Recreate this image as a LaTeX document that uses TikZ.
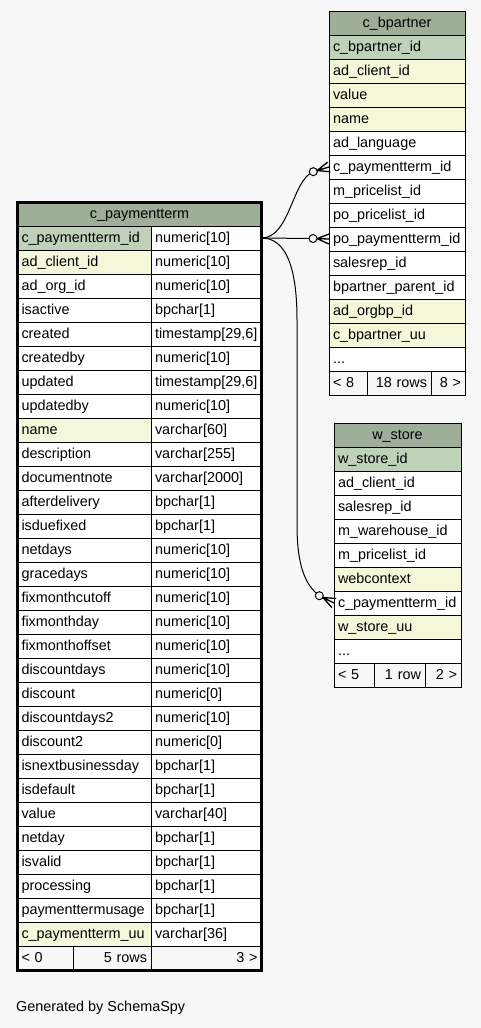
\documentclass[tikz,border=0pt]{standalone}
\usepackage{fontspec}
\setmainfont{Liberation Sans}
\usetikzlibrary{calc}
\definecolor{bgc}{HTML}{F7F7F7}
\definecolor{hdc}{HTML}{9EAE99}
\definecolor{pkc}{HTML}{BFD1B9}
\definecolor{ixc}{HTML}{F4F7DA}
\definecolor{whc}{HTML}{FFFFFF}
\newcommand\tabfont{\fontsize{14.4}{16}\selectfont}
\newcommand\tsz{timestamp[29,6]}
\newcommand\ellip{...}
\begin{document}
\begin{tikzpicture}[x=1pt,y=-1pt,
  cell/.style={draw=black, line width=1pt, outer sep=0pt, minimum height=24pt,
    inner xsep=4pt, inner ysep=0pt, align=left, text height=11pt, text depth=3pt,
    anchor=north west, font=\tabfont},
  rcell/.style={cell, align=right},
  hcell/.style={cell, align=center, fill=hdc},
  fcell/.style={cell, fill=bgc},
  frcell/.style={rcell, fill=bgc},
  link/.style={draw=black, line width=1pt},
  crow/.style={draw=black, line width=1.3pt},
  ring/.style={draw=black, line width=1pt, fill=bgc}]
\useasboundingbox (0,0) rectangle (481,1028);
\fill[bgc] (0,0) rectangle (481,1028);

% ---------- c_paymentterm ----------
\node[hcell, text width=236pt, minimum height=23.5pt] (pth) at (17.5,202.5) {c\_paymentterm};
\foreach \a/\b/\c [count=\i] in {
  c\_paymentterm\_id/numeric[10]/pkc,
  ad\_client\_id/numeric[10]/ixc,
  ad\_org\_id/numeric[10]/whc,
  isactive/bpchar[1]/whc,
  created/\tsz/whc,
  createdby/numeric[10]/whc,
  updated/\tsz/whc,
  updatedby/numeric[10]/whc,
  name/varchar[60]/ixc,
  description/varchar[255]/whc,
  documentnote/varchar[2000]/whc,
  afterdelivery/bpchar[1]/whc,
  isduefixed/bpchar[1]/whc,
  netdays/numeric[10]/whc,
  gracedays/numeric[10]/whc,
  fixmonthcutoff/numeric[10]/whc,
  fixmonthday/numeric[10]/whc,
  fixmonthoffset/numeric[10]/whc,
  discountdays/numeric[10]/whc,
  discount/numeric[0]/whc,
  discountdays2/numeric[10]/whc,
  discount2/numeric[0]/whc,
  isnextbusinessday/bpchar[1]/whc,
  isdefault/bpchar[1]/whc,
  value/varchar[40]/whc,
  netday/bpchar[1]/whc,
  isvalid/bpchar[1]/whc,
  processing/bpchar[1]/whc,
  paymenttermusage/bpchar[1]/whc,
  c\_paymentterm\_uu/varchar[36]/ixc}
{
  \node[cell, fill=\c, text width=125.5pt] (pl\i) at (17.5,{226+24*(\i-1)}) {\a};
  \node[cell, fill=whc, text width=102.5pt] (pr\i) at (151,{226+24*(\i-1)}) {\b};
}
\node[fcell, text width=47.5pt] (ptf1) at (17.5,946) {< 0};
\node[frcell, text width=70pt] (ptf2) at (73,946) {5 rows};
\node[frcell, text width=102.5pt] (ptf3) at (151,946) {3 >};
\draw[line width=3pt] (17.5,202.5) rectangle (261.5,970);

% ---------- c_bpartner ----------
\node[hcell, text width=128pt] (bph) at (329,11) {c\_bpartner};
\foreach \a/\c [count=\i] in {
  c\_bpartner\_id/pkc,
  ad\_client\_id/ixc,
  value/ixc,
  name/ixc,
  ad\_language/whc,
  c\_paymentterm\_id/whc,
  m\_pricelist\_id/whc,
  po\_pricelist\_id/whc,
  po\_paymentterm\_id/whc,
  salesrep\_id/whc,
  bpartner\_parent\_id/whc,
  ad\_orgbp\_id/ixc,
  c\_bpartner\_uu/ixc,
  \ellip/whc}
{
  \node[cell, fill=\c, text width=128pt] (bp\i) at (329,{35+24*(\i-1)}) {\a};
}
\node[fcell, text width=30pt] (bpf1) at (329,371) {< 8};
\node[frcell, text width=56pt] (bpf2) at (367,371) {18 rows};
\node[frcell, text width=26pt] (bpf3) at (431,371) {8 >};

% ---------- w_store ----------
\node[hcell, text width=119pt] (wsh) at (334,423) {w\_store};
\foreach \a/\c [count=\i] in {
  w\_store\_id/pkc,
  ad\_client\_id/whc,
  salesrep\_id/whc,
  m\_warehouse\_id/whc,
  m\_pricelist\_id/whc,
  webcontext/ixc,
  c\_paymentterm\_id/whc,
  w\_store\_uu/ixc,
  \ellip/whc}
{
  \node[cell, fill=\c, text width=119pt] (ws\i) at (334,{447+24*(\i-1)}) {\a};
}
\node[fcell, text width=32pt] (wsf1) at (334,663) {< 5};
\node[frcell, text width=43pt] (wsf2) at (374,663) {1 row};
\node[frcell, text width=28pt] (wsf3) at (425,663) {2 >};

% ---------- connectors ----------
\coordinate (c1) at (313.3,171.7);
\coordinate (c2) at (313,238.5);
\coordinate (c3) at (319.3,595.7);

\draw[link] (pr1.east) .. controls (290,238) and (292,180) .. (c1);
\draw[link] (pr1.east) -- (c2);
\draw[link] (pr1.east) .. controls (285,238) and (297,265) .. (297,320)
  -- (297,525) .. controls (297,565) and (305,585) .. (c3);

\draw[ring] (c1) circle[radius=4];
\draw[ring] (c2) circle[radius=4];
\draw[ring] (c3) circle[radius=4];

\draw[crow] ($(c1)!4pt!(bp6.west)$) coordinate (t1) -- (bp6.west)
  (t1) -- ($(bp6.west)!5pt!90:(c1)$) (t1) -- ($(bp6.west)!5pt!-90:(c1)$);
\draw[crow] ($(c2)!4pt!(bp9.west)$) coordinate (t2) -- (bp9.west)
  (t2) -- ($(bp9.west)!5pt!90:(c2)$) (t2) -- ($(bp9.west)!5pt!-90:(c2)$);
\draw[crow] ($(c3)!4pt!(ws7.west)$) coordinate (t3) -- (ws7.west)
  (t3) -- ($(ws7.west)!5pt!90:(c3)$) (t3) -- ($(ws7.west)!5pt!-90:(c3)$);

\node[anchor=base west, inner sep=0pt, font=\tabfont] (gen) at (16,1011.7) {Generated by SchemaSpy};
\end{tikzpicture}
\end{document}
